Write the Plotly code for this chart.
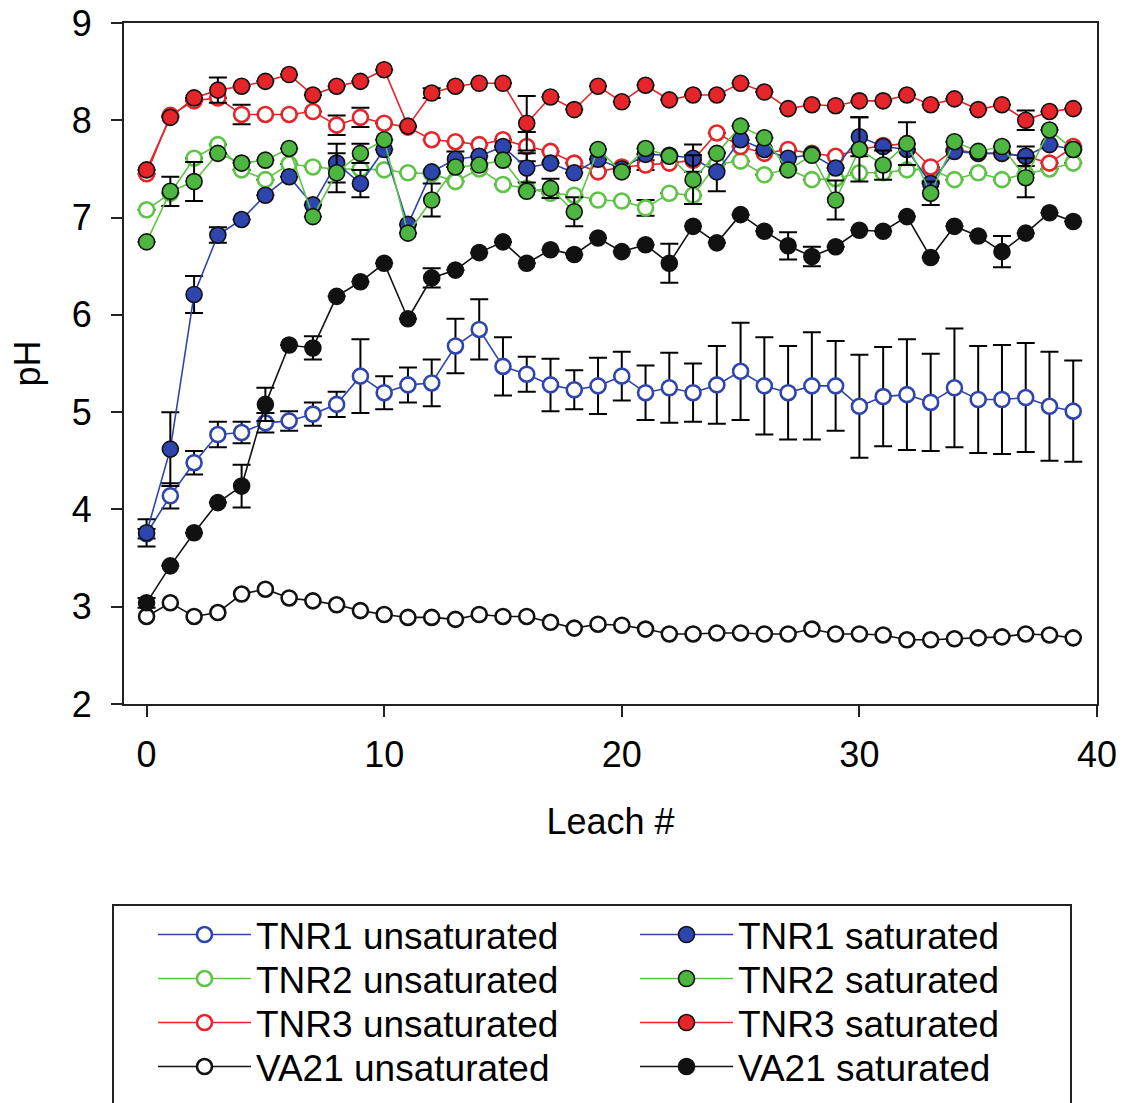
import plotly.graph_objects as go

leach = list(range(40))

tnr1_unsat = [3.75, 4.14, 4.48, 4.77, 4.79, 4.89, 4.91, 4.98, 5.08, 5.37, 5.20, 5.28, 5.30, 5.68, 5.85, 5.47, 5.39, 5.28, 5.23, 5.27,
              5.37, 5.20, 5.25, 5.20, 5.28, 5.42, 5.27, 5.20, 5.27, 5.27, 5.06, 5.16, 5.18, 5.10, 5.25, 5.13, 5.13, 5.15, 5.06, 5.01]
tnr1_unsat_err = [0.05, 0.13, 0.12, 0.13, 0.11, 0.10, 0.10, 0.12, 0.13, 0.38, 0.17, 0.18, 0.24, 0.28, 0.31, 0.30, 0.18, 0.27, 0.20, 0.29,
                  0.25, 0.28, 0.36, 0.30, 0.40, 0.50, 0.50, 0.48, 0.55, 0.46, 0.53, 0.51, 0.57, 0.50, 0.61, 0.55, 0.56, 0.56, 0.56, 0.52]

tnr2_unsat = [7.08, 7.25, 7.61, 7.75, 7.49, 7.39, 7.55, 7.52, 7.50, 7.50, 7.49, 7.46, 7.45, 7.37, 7.50, 7.34, 7.30, 7.25, 7.23, 7.18,
              7.17, 7.10, 7.25, 7.23, 7.55, 7.58, 7.44, 7.50, 7.39, 7.40, 7.46, 7.46, 7.49, 7.50, 7.39, 7.46, 7.39, 7.45, 7.50, 7.56]
tnr2_unsat_err = [0, 0, 0, 0, 0, 0, 0, 0, 0, 0, 0, 0, 0, 0, 0, 0, 0, 0, 0, 0,
                  0, 0.08, 0, 0, 0, 0, 0, 0, 0, 0, 0, 0, 0, 0, 0, 0, 0, 0, 0, 0]

tnr3_unsat = [7.45, 8.05, 8.20, 8.23, 8.06, 8.06, 8.06, 8.09, 7.95, 8.03, 7.97, 7.93, 7.80, 7.78, 7.75, 7.80, 7.73, 7.68, 7.56, 7.47,
              7.52, 7.54, 7.56, 7.59, 7.87, 7.73, 7.66, 7.70, 7.66, 7.63, 7.70, 7.74, 7.76, 7.52, 7.70, 7.66, 7.66, 7.63, 7.56, 7.73]
tnr3_unsat_err = [0, 0, 0, 0, 0.10, 0, 0, 0, 0.10, 0.10, 0, 0, 0, 0, 0, 0, 0.15, 0, 0, 0,
                  0, 0.05, 0, 0, 0, 0, 0, 0, 0, 0, 0, 0, 0, 0, 0, 0, 0, 0, 0, 0]

va21_unsat = [2.90, 3.04, 2.90, 2.94, 3.13, 3.18, 3.09, 3.06, 3.02, 2.96, 2.92, 2.89, 2.89, 2.87, 2.92, 2.90, 2.90, 2.84, 2.78, 2.82,
              2.81, 2.77, 2.72, 2.72, 2.73, 2.73, 2.72, 2.72, 2.77, 2.72, 2.72, 2.71, 2.66, 2.66, 2.67, 2.68, 2.69, 2.72, 2.71, 2.68]

tnr1_sat = [3.76, 4.62, 6.21, 6.82, 6.98, 7.23, 7.42, 7.13, 7.56, 7.35, 7.70, 6.93, 7.47, 7.60, 7.63, 7.73, 7.51, 7.56, 7.46, 7.60,
            7.50, 7.65, 7.64, 7.61, 7.47, 7.80, 7.70, 7.61, 7.65, 7.51, 7.83, 7.73, 7.70, 7.35, 7.68, 7.66, 7.66, 7.63, 7.75, 7.70]
tnr1_sat_err = [0.14, 0.38, 0.19, 0.08, 0, 0, 0, 0, 0.20, 0.14, 0, 0, 0, 0.08, 0, 0, 0.15, 0, 0, 0,
                0, 0, 0, 0.14, 0.20, 0, 0, 0, 0, 0, 0.20, 0, 0, 0, 0, 0, 0, 0.10, 0, 0]

tnr2_sat = [6.75, 7.27, 7.37, 7.66, 7.56, 7.59, 7.71, 7.01, 7.46, 7.66, 7.80, 6.84, 7.18, 7.52, 7.54, 7.59, 7.27, 7.30, 7.06, 7.70,
            7.47, 7.71, 7.63, 7.39, 7.66, 7.94, 7.82, 7.49, 7.64, 7.18, 7.70, 7.54, 7.76, 7.25, 7.78, 7.68, 7.73, 7.41, 7.90, 7.70]
tnr2_sat_err = [0, 0.15, 0.20, 0, 0, 0, 0, 0, 0.20, 0.10, 0, 0, 0.17, 0, 0, 0, 0, 0.10, 0.15, 0,
                0, 0, 0, 0.25, 0, 0, 0, 0, 0, 0.20, 0.33, 0.15, 0.22, 0.12, 0, 0, 0, 0.20, 0, 0]

tnr3_sat = [7.49, 8.03, 8.23, 8.31, 8.35, 8.40, 8.47, 8.26, 8.35, 8.40, 8.52, 7.94, 8.28, 8.35, 8.38, 8.38, 7.97, 8.24, 8.11, 8.35,
            8.19, 8.36, 8.21, 8.26, 8.26, 8.38, 8.29, 8.12, 8.16, 8.15, 8.20, 8.20, 8.26, 8.16, 8.22, 8.11, 8.16, 8.00, 8.09, 8.12]
tnr3_sat_err = [0, 0, 0, 0.13, 0, 0, 0, 0, 0, 0, 0, 0, 0.05, 0, 0, 0, 0.28, 0, 0, 0,
                0, 0, 0, 0, 0, 0, 0, 0, 0, 0, 0, 0, 0, 0, 0, 0, 0, 0.10, 0, 0]

va21_sat = [3.04, 3.42, 3.76, 4.07, 4.24, 5.08, 5.69, 5.66, 6.19, 6.34, 6.53, 5.96, 6.38, 6.46, 6.64, 6.75, 6.53, 6.67, 6.62, 6.79,
            6.65, 6.72, 6.53, 6.91, 6.74, 7.03, 6.86, 6.71, 6.60, 6.70, 6.87, 6.86, 7.01, 6.59, 6.91, 6.81, 6.65, 6.84, 7.05, 6.96]
va21_sat_err = [0.05, 0, 0, 0, 0.22, 0.17, 0, 0.12, 0, 0, 0, 0, 0.10, 0, 0, 0, 0, 0, 0, 0,
                0, 0, 0.20, 0, 0, 0, 0, 0.14, 0.10, 0, 0, 0, 0, 0, 0, 0, 0.16, 0, 0, 0]

BLUE = "#2E45AE"
GREEN = "#5EC446"
GREEN_FILL = "#4CB640"
RED = "#E5252A"
BLACK = "#111111"

FONT = "Liberation Sans, Arial, sans-serif"

# plot area in pixels (for converting legend placement to paper units)
PLOT_L, PLOT_R, PLOT_T, PLOT_B = 124, 1097, 23, 704
PW, PH = PLOT_R - PLOT_L, PLOT_B - PLOT_T

fig = go.Figure()


def err(arr):
    return dict(type="data", array=arr, visible=True, color="black", thickness=2, width=9)


unsat = [
    ("TNR1 unsaturated", tnr1_unsat, tnr1_unsat_err, BLUE),
    ("TNR2 unsaturated", tnr2_unsat, tnr2_unsat_err, GREEN),
    ("TNR3 unsaturated", tnr3_unsat, tnr3_unsat_err, RED),
    ("VA21 unsaturated", va21_unsat, None, BLACK),
]
sat = [
    ("TNR1 saturated", tnr1_sat, tnr1_sat_err, BLUE, BLUE),
    ("TNR2 saturated", tnr2_sat, tnr2_sat_err, GREEN, GREEN_FILL),
    ("TNR3 saturated", tnr3_sat, tnr3_sat_err, RED, RED),
    ("VA21 saturated", va21_sat, va21_sat_err, BLACK, BLACK),
]

legend_rows_px = [935, 979, 1023, 1067]
legend_cols_px = [153, 635]

legend_layouts = {}


def legend_layout(col, row):
    return dict(
        font=dict(family=FONT, size=37, color="black"),
        bgcolor="rgba(0,0,0,0)", borderwidth=0,
        orientation="v", xanchor="left", yanchor="middle",
        x=(legend_cols_px[col] - PLOT_L) / PW,
        y=(PLOT_B - legend_rows_px[row]) / PH,
        itemwidth=93,
    )


idx = 1
for i, (name, y, e, c) in enumerate(unsat):
    key = "legend" if idx == 1 else f"legend{idx}"
    fig.add_trace(go.Scatter(
        x=leach, y=y, name=name, mode="lines+markers",
        line=dict(color=c, width=1.6),
        marker=dict(symbol="circle", size=15, color="white", line=dict(color=c, width=2.6)),
        error_y=err(e) if e is not None else None,
        legend=key,
    ))
    legend_layouts[key] = legend_layout(0, i)
    idx += 1

for i, (name, y, e, lc, fc) in enumerate(sat):
    key = f"legend{idx}"
    fig.add_trace(go.Scatter(
        x=leach, y=y, name=name, mode="lines+markers",
        line=dict(color=lc, width=1.6),
        marker=dict(symbol="circle", size=16, color=fc, line=dict(color="#111111", width=1.6)),
        error_y=err(e),
        legend=key,
    ))
    legend_layouts[key] = legend_layout(1, i)
    idx += 1

fig.update_layout(
    width=1125, height=1103,
    margin=dict(l=PLOT_L, r=1125 - PLOT_R, t=PLOT_T, b=1103 - PLOT_B, autoexpand=False),
    paper_bgcolor="white", plot_bgcolor="white",
    font=dict(family=FONT, size=36, color="black"),
    showlegend=True,
    xaxis=dict(
        range=[-0.95, 40], tickmode="array", tickvals=[0, 10, 20, 30, 40],
        ticks="outside", ticklen=11, tickwidth=2, tickcolor="#222",
        showline=True, linecolor="#222", linewidth=2, mirror=True,
        showgrid=False, zeroline=False,
        tickfont=dict(size=36), ticklabelstandoff=7,
        title=dict(text="Leach #", font=dict(size=36), standoff=35),
    ),
    yaxis=dict(
        range=[2, 9], tickmode="array", tickvals=[2, 3, 4, 5, 6, 7, 8, 9],
        ticks="outside", ticklen=11, tickwidth=2, tickcolor="#222",
        showline=True, linecolor="#222", linewidth=2, mirror=True,
        showgrid=False, zeroline=False,
        tickfont=dict(size=36), ticklabelstandoff=12,
        title=dict(text="pH", font=dict(size=36), standoff=20),
    ),
    shapes=[dict(type="rect", xref="paper", yref="paper",
                 x0=(113 - PLOT_L) / PW, x1=(1071 - PLOT_L) / PW,
                 y0=(PLOT_B - 905) / PH, y1=(PLOT_B - 1120) / PH,
                 line=dict(color="#222", width=2), fillcolor="rgba(0,0,0,0)", layer="above")],
    **legend_layouts,
)

fig.write_html("out.html")
